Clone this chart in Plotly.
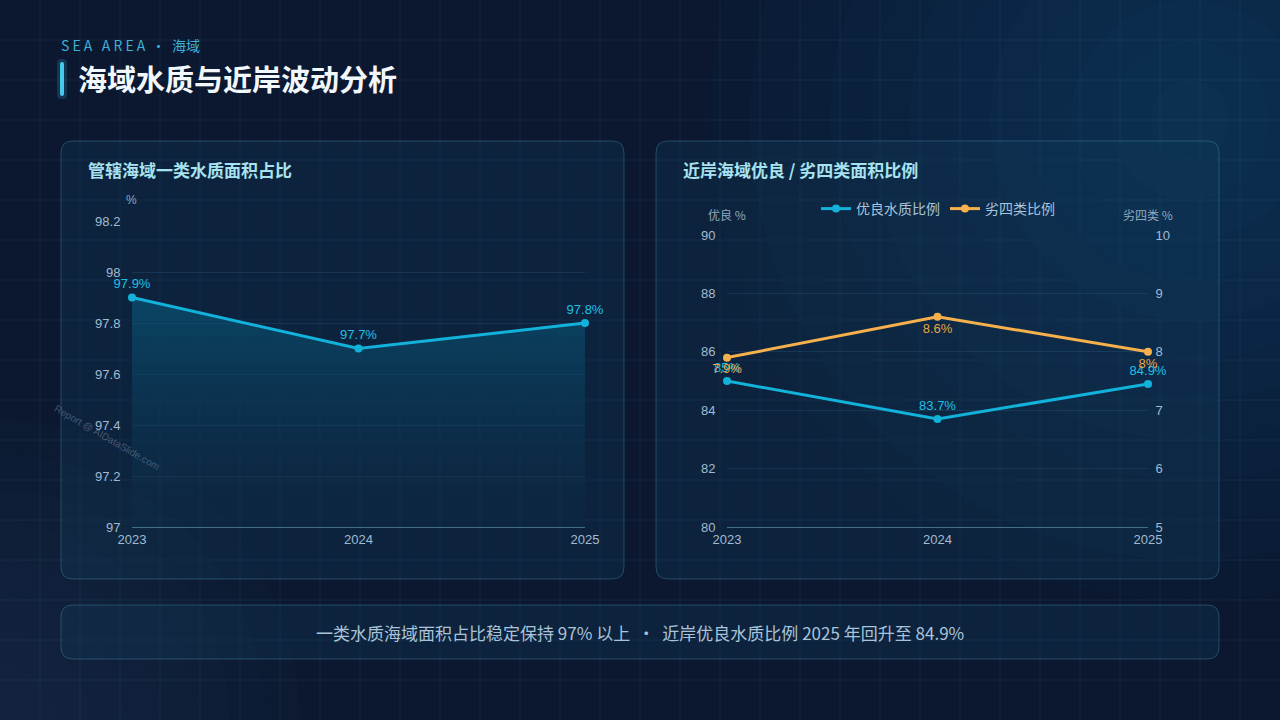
import plotly.graph_objects as go

# ---------------- data ----------------
years = ["2023", "2024", "2025"]
class1_pct = [97.9, 97.7, 97.8]
class1_labels = ["97.9%", "97.7%", "97.8%"]
good_pct = [85.0, 83.7, 84.9]
good_labels = ["85%", "83.7%", "84.9%"]
bad4_pct = [7.9, 8.6, 8.0]
bad4_labels = ["7.9%", "8.6%", "8%"]

left_range = [97, 98.2]
left_ticks = [97, 97.2, 97.4, 97.6, 97.8, 98, 98.2]
good_range = [80, 90]
bad_range = [5, 10]

W, H = 1280, 720
FONT = "Liberation Sans, Arial, Noto Sans CJK SC, sans-serif"
CJK = "Noto Sans CJK SC, sans-serif"


def px(x):
    return x / W


def py(y):
    return 1 - y / H


def rrect(x0, y0, x1, y1, r):
    pts = [
        ("M", x0 + r, y0), ("L", x1 - r, y0), ("Q", x1, y0, x1, y0 + r),
        ("L", x1, y1 - r), ("Q", x1, y1, x1 - r, y1), ("L", x0 + r, y1),
        ("Q", x0, y1, x0, y1 - r), ("L", x0, y0 + r), ("Q", x0, y0, x0 + r, y0),
    ]
    s = ""
    for p in pts:
        coords = p[1:]
        parts = [f"{px(coords[i]):.5f},{py(coords[i + 1]):.5f}" for i in range(0, len(coords), 2)]
        s += p[0] + " " + " ".join(parts) + " "
    return s + "Z"


shapes = []


def glow(cx, cy, rad, color, op):
    shapes.append(dict(type="circle", xref="paper", yref="paper", layer="below",
                       x0=px(cx - rad), x1=px(cx + rad), y0=py(cy + rad), y1=py(cy - rad),
                       fillcolor=color, opacity=op, line=dict(width=0)))


# soft background glows (stacked faint discs approximate a radial gradient)
for rad in range(480, 30, -40):
    glow(1190, 120, rad, "rgb(20,100,130)", 0.045)
for rad in range(300, 20, -35):
    glow(0, 720, rad, "rgb(60,95,125)", 0.035)

# background grid
for gx in range(40, W, 40):
    shapes.append(dict(type="line", xref="paper", yref="paper", layer="below",
                       x0=px(gx), x1=px(gx), y0=0, y1=1,
                       line=dict(color="rgba(70,140,170,0.12)", width=1)))
for gy in range(40, H, 40):
    shapes.append(dict(type="line", xref="paper", yref="paper", layer="below",
                       x0=0, x1=1, y0=py(gy), y1=py(gy),
                       line=dict(color="rgba(70,140,170,0.12)", width=1)))
# panels
for (x0, y0, x1, y1) in [(61, 141, 624, 579), (656, 141, 1219, 579), (61, 605, 1219, 659)]:
    shapes.append(dict(type="path", xref="paper", yref="paper", layer="below",
                       path=rrect(x0, y0, x1, y1, 12),
                       fillcolor="rgba(18,60,90,0.32)",
                       line=dict(color="rgba(80,160,190,0.35)", width=1)))
# title accent bar with glow
shapes.append(dict(type="path", xref="paper", yref="paper", layer="above",
                   path=rrect(57, 59, 67, 99, 4), fillcolor="rgba(60,200,235,0.18)",
                   line=dict(width=0)))
shapes.append(dict(type="path", xref="paper", yref="paper", layer="above",
                   path=rrect(60, 62, 64, 96, 2), fillcolor="#45cbe9",
                   line=dict(width=0)))

fig = go.Figure()

LBL = 13
# left chart
fig.add_trace(go.Scatter(
    x=years, y=class1_pct, mode="lines+markers+text", text=class1_labels,
    textposition="top center", textfont=dict(color="#1ec0e6", size=LBL, family=FONT),
    line=dict(color="#12b2da", width=3), marker=dict(size=8, color="#12b2da"),
    fill="tozeroy",
    fillgradient=dict(type="vertical", start=left_range[0], stop=max(class1_pct),
                      colorscale=[[0, "rgba(10,50,80,0.12)"], [1, "rgba(8,88,122,0.65)"]]),
    xaxis="x", yaxis="y", showlegend=False, cliponaxis=False))

# right chart
fig.add_trace(go.Scatter(
    x=years, y=good_pct, name="优良水质比例", mode="lines+markers+text", text=good_labels,
    textposition="top center", textfont=dict(color="#1ec0e6", size=LBL, family=FONT),
    line=dict(color="#12b2da", width=3), marker=dict(size=8, color="#12b2da"),
    xaxis="x2", yaxis="y3", cliponaxis=False))
fig.add_trace(go.Scatter(
    x=years, y=bad4_pct, name="劣四类比例", mode="lines+markers+text", text=bad4_labels,
    textposition="bottom center", textfont=dict(color="#e8a640", size=LBL, family=FONT),
    line=dict(color="#f7b14c", width=3), marker=dict(size=8, color="#f7b14c"),
    xaxis="x2", yaxis="y4", cliponaxis=False))

tickfont = dict(color="#a0bbd2", size=13, family=FONT)
grid = "rgba(80,150,180,0.16)"
axline = "rgba(110,175,200,0.55)"


def ann(text, x, y, size, color, family=CJK, xanchor="left", **kw):
    return dict(text=text, x=px(x), y=py(y), xref="paper", yref="paper",
                xanchor=xanchor, yanchor="middle", showarrow=False,
                font=dict(family=family, size=size, color=color), **kw)


annotations = [
    ann("S E A   A R E A  ·  海域", 59, 45, 14, "#3fb0d6"),
    ann("<b>海域水质与近岸波动分析</b>", 76, 78, 29, "#f2f7fb"),
    ann("<b>管辖海域一类水质面积占比</b>", 86, 169, 17, "#a6e2f0"),
    ann("<b>近岸海域优良 / 劣四类面积比例</b>", 681, 169, 17, "#a6e2f0"),
    ann("%", 131, 200, 12, "#8fa9bf", family=FONT, xanchor="center"),
    ann("优良 %", 727, 214, 12, "#8fa9bf", xanchor="center"),
    ann("劣四类 %", 1148, 214, 12, "#8fa9bf", xanchor="center"),
    ann("一类水质海域面积占比稳定保持 97% 以上  ·  近岸优良水质比例 2025 年回升至 84.9%",
        640, 632, 17, "#a9c3da", xanchor="center"),
    ann("Report @ AIDataSlide.com", 107, 438, 10, "rgba(140,160,180,0.45)", family=FONT,
        xanchor="center", textangle=30),
]

fig.update_layout(
    template="none",
    width=W, height=H, margin=dict(l=0, r=0, t=0, b=0, pad=0, autoexpand=False),
    paper_bgcolor="#0b1830", plot_bgcolor="rgba(0,0,0,0)",
    font=dict(family=FONT, color="#9db6cc"),
    shapes=shapes, annotations=annotations,
    showlegend=True,
    legend=dict(orientation="h", x=px(938), y=py(209), xanchor="center", yanchor="middle",
                font=dict(family=CJK, size=14, color="#a9c3da"), bgcolor="rgba(0,0,0,0)",
                itemwidth=30),
    xaxis=dict(domain=[px(132), px(585)], type="category", range=[0, 2], automargin=False,
               showgrid=False, zeroline=False, showline=True, linecolor=axline, linewidth=1,
               ticks="", tickfont=tickfont, anchor="y", fixedrange=True),
    yaxis=dict(domain=[py(527), py(221)], range=left_range, tickvals=left_ticks, automargin=False,
               showgrid=True, gridcolor=grid, zeroline=False, showline=False,
               ticks="outside", ticklen=8, tickcolor="rgba(0,0,0,0)",
               tickfont=tickfont, anchor="x", fixedrange=True),
    xaxis2=dict(domain=[px(727), px(1148)], type="category", range=[0, 2], automargin=False,
                showgrid=False, zeroline=False, showline=True, linecolor=axline, linewidth=1,
                ticks="", tickfont=tickfont, anchor="y3", fixedrange=True),
    yaxis3=dict(domain=[py(527), py(235)], range=good_range, dtick=2, automargin=False,
                showgrid=True, gridcolor=grid, zeroline=False, showline=False,
                ticks="outside", ticklen=8, tickcolor="rgba(0,0,0,0)",
                tickfont=tickfont, anchor="x2", fixedrange=True),
    yaxis4=dict(domain=[py(527), py(235)], range=bad_range, dtick=1, overlaying="y3", side="right",
                automargin=False, showgrid=False, zeroline=False, showline=False,
                ticks="outside", ticklen=4, tickcolor="rgba(0,0,0,0)",
                tickfont=tickfont, anchor="x2", fixedrange=True),
)

fig.write_html("out.html", config={"displayModeBar": False},
               post_script="document.body.style.margin='0';document.body.style.background='#0b1830';")
